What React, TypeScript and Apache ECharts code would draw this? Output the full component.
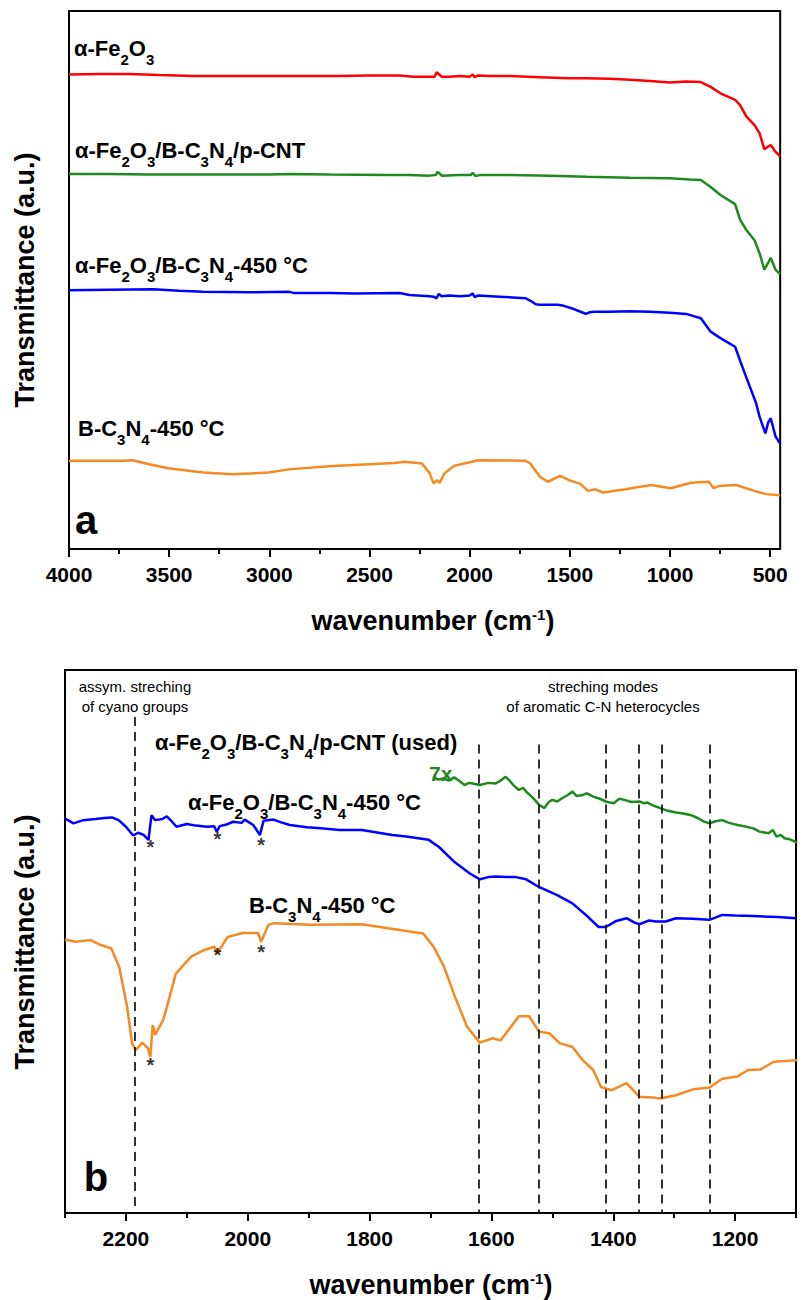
import React, { useEffect, useRef } from "react";
import * as echarts from "echarts";

// ---------- colours ----------
const RED = "#ff0000";
const GREEN = "#1e8a1e";
const BLUE = "#0000ff";
const ORANGE = "#f68a22";

// ---------- panel (a): 4000-450 cm-1, [wavenumber, transmittance (a.u.)] ----------
const fe2o3Full: number[][] = [
  [4000, 88.2], [3850, 88.3], [3700, 88.3], [3550, 88.1], [3380, 87.9], [3200, 87.9],
  [3000, 87.9], [2800, 87.9], [2650, 87.9], [2500, 88.0], [2350, 88.0], [2280, 87.8],
  [2220, 87.8], [2175, 87.8], [2165, 88.6], [2155, 88.3], [2140, 87.8], [2100, 87.8],
  [2050, 87.9], [2000, 87.8], [1985, 88.2], [1975, 87.7], [1960, 88.0], [1900, 87.9],
  [1800, 87.9], [1650, 87.7], [1500, 87.5], [1414, 87.5], [1300, 87.4], [1200, 87.2],
  [1100, 87.0], [1000, 86.7], [920, 86.9], [846, 86.8], [797, 85.9], [748, 84.7],
  [675, 83.5], [650, 82.5], [619, 80.4], [578, 78.8], [553, 77.3], [529, 74.3],
  [510, 74.8], [497, 75.1], [473, 73.8], [450, 73.0],
];

const compositeFull: number[][] = [
  [4000, 69.7], [3800, 69.7], [3600, 69.6], [3400, 69.6], [3000, 69.6], [2900, 69.7],
  [2700, 69.6], [2400, 69.5], [2300, 69.5], [2200, 69.4], [2170, 69.5], [2160, 70.1],
  [2150, 69.8], [2140, 69.4], [2050, 69.5], [1995, 69.5], [1985, 69.9], [1970, 69.3],
  [1950, 69.5], [1800, 69.5], [1600, 69.4], [1414, 69.2], [1200, 69.0], [1000, 68.9],
  [900, 68.7], [846, 68.6], [797, 67.3], [748, 65.8], [675, 64.1], [650, 61.2],
  [619, 59.3], [578, 57.4], [553, 55.0], [529, 51.9], [513, 53.0], [497, 54.1],
  [473, 51.9], [450, 51.1],
];

const composite450Full: number[][] = [
  [4000, 48.1], [3800, 48.2], [3580, 48.3], [3450, 48.0], [3330, 47.8], [3100, 47.7],
  [2900, 47.8], [2880, 47.6], [2700, 47.6], [2575, 47.5], [2350, 47.6], [2300, 47.2],
  [2200, 47.0], [2180, 46.9], [2165, 46.6], [2155, 47.4], [2140, 47.0], [2100, 47.1],
  [2050, 47.0], [2000, 47.1], [1985, 47.5], [1975, 46.8], [1960, 47.1], [1850, 46.9],
  [1720, 46.6], [1690, 46.0], [1670, 45.5], [1650, 45.4], [1560, 45.4], [1530, 45.2],
  [1480, 44.6], [1440, 44.0], [1420, 43.7], [1400, 44.0], [1380, 44.1], [1300, 44.1],
  [1200, 44.2], [1100, 44.1], [1000, 43.9], [920, 43.7], [846, 42.9], [797, 40.4],
  [748, 39.2], [675, 37.6], [650, 35.0], [620, 32.0], [570, 27.1], [553, 24.6],
  [524, 21.5], [510, 23.5], [497, 24.3], [473, 20.9], [450, 19.6],
];

const bc3n4Full: number[][] = [
  [4000, 16.4], [3731, 16.4], [3681, 16.5], [3606, 15.8], [3505, 15.0], [3330, 14.2],
  [3179, 13.9], [3004, 14.2], [2903, 14.8], [2702, 15.4], [2376, 16.0], [2326, 16.2],
  [2238, 15.9], [2200, 14.1], [2180, 12.2], [2163, 12.8], [2150, 12.3], [2125, 14.1],
  [2075, 15.5], [1987, 16.2], [1962, 16.5], [1723, 16.4], [1698, 15.9], [1648, 13.4],
  [1610, 12.5], [1548, 13.6], [1498, 12.7], [1447, 12.1], [1410, 10.8], [1372, 11.1],
  [1335, 10.5], [1222, 11.1], [1096, 11.9], [996, 11.3], [895, 12.3], [807, 12.5],
  [782, 11.3], [757, 11.7], [670, 11.9], [570, 10.7], [520, 10.2], [450, 10.0],
];

// ---------- panel (b): 2300-1100 cm-1 ----------
const compositeUsedZoom: number[][] = [
  [1695, 79.6], [1688, 79.1], [1678, 79.3], [1670, 78.9], [1661, 79.5], [1652, 78.8],
  [1644, 78.1], [1637, 78.5], [1631, 78.4], [1619, 78.1], [1605, 78.5], [1593, 78.4],
  [1585, 78.9], [1577, 79.6], [1570, 78.9], [1564, 78.1], [1555, 77.2], [1548, 77.6],
  [1543, 76.9], [1534, 76.0], [1528, 75.3], [1522, 74.5], [1513, 73.9], [1506, 75.0],
  [1500, 75.4], [1492, 75.1], [1484, 75.7], [1476, 76.2], [1467, 76.9], [1460, 76.1],
  [1450, 76.3], [1443, 76.6], [1433, 76.0], [1422, 75.6], [1412, 75.1], [1405, 74.9],
  [1399, 74.8], [1390, 75.6], [1382, 75.4], [1370, 75.0], [1357, 75.1], [1350, 74.8],
  [1344, 74.9], [1335, 74.4], [1323, 73.9], [1310, 73.4], [1297, 73.1], [1285, 72.9],
  [1272, 72.6], [1260, 72.0], [1250, 71.4], [1242, 71.1], [1232, 71.5], [1221, 71.7],
  [1210, 71.2], [1196, 70.8], [1185, 70.6], [1170, 70.2], [1160, 69.6], [1145, 69.3],
  [1138, 69.9], [1132, 68.7], [1125, 69.0], [1119, 68.4], [1110, 68.2], [1098, 67.6],
];

const composite450Zoom: number[][] = [
  [2300, 72.0], [2286, 71.1], [2270, 71.7], [2250, 71.9], [2235, 72.1], [2223, 72.2],
  [2212, 71.7], [2200, 70.5], [2188, 68.9], [2180, 69.4], [2171, 69.0], [2163, 68.1],
  [2158, 72.6], [2152, 71.7], [2140, 71.9], [2133, 72.4], [2125, 71.5], [2117, 70.5],
  [2100, 71.0], [2085, 70.7], [2067, 70.5], [2055, 70.6], [2051, 69.6], [2046, 70.6],
  [2035, 70.9], [2024, 71.4], [2010, 71.2], [2005, 71.8], [1991, 70.8], [1980, 69.0],
  [1974, 71.6], [1958, 71.8], [1945, 71.3], [1931, 70.8], [1903, 70.4], [1880, 70.2],
  [1849, 69.9], [1813, 69.9], [1790, 69.5], [1763, 69.0], [1740, 68.7], [1703, 68.1],
  [1686, 66.8], [1661, 64.1], [1636, 62.0], [1619, 60.9], [1605, 61.3], [1593, 61.4],
  [1575, 61.3], [1560, 61.3], [1543, 60.9], [1522, 59.5], [1492, 58.0], [1467, 56.5],
  [1442, 54.1], [1424, 52.2], [1412, 52.2], [1395, 53.3], [1378, 53.8], [1365, 53.0],
  [1357, 52.7], [1341, 53.4], [1330, 53.2], [1314, 53.2], [1297, 53.8], [1270, 53.7],
  [1242, 53.5], [1221, 54.4], [1200, 54.3], [1170, 54.2], [1130, 54.0], [1100, 53.8],
];

const bc3n4Zoom: number[][] = [
  [2300, 49.9], [2283, 49.5], [2258, 49.8], [2241, 48.9], [2224, 48.3], [2211, 44.9],
  [2198, 37.6], [2190, 31.0], [2184, 29.7], [2173, 31.1], [2164, 30.1], [2160, 28.5],
  [2156, 34.3], [2152, 32.5], [2139, 35.2], [2131, 38.3], [2118, 43.7], [2093, 46.8],
  [2071, 48.0], [2055, 48.6], [2050, 47.4], [2033, 50.4], [2008, 51.1], [1983, 51.1],
  [1978, 49.5], [1966, 52.6], [1957, 52.9], [1898, 52.6], [1813, 52.7], [1729, 51.3],
  [1712, 51.0], [1695, 48.6], [1678, 45.0], [1661, 39.8], [1640, 34.0], [1619, 31.1],
  [1598, 31.9], [1585, 31.5], [1555, 35.9], [1538, 35.9], [1522, 33.1], [1505, 32.8],
  [1488, 31.0], [1467, 30.3], [1450, 27.9], [1433, 26.1], [1420, 23.0], [1403, 22.4],
  [1378, 23.7], [1357, 21.2], [1336, 21.1], [1323, 20.9], [1297, 21.5], [1268, 22.6],
  [1242, 22.9], [1221, 24.5], [1196, 24.9], [1179, 26.1], [1158, 26.2], [1137, 27.6],
  [1098, 27.9],
];

// band positions (cm-1) marked with dashed guides
const cyanoBands = [2185];
const heterocycleBands = [1620, 1523, 1412, 1358, 1321, 1242];
// asterisks below the sharp features
const starMarks: number[][] = [
  [2160, 66.8], [2050, 68.2], [1978, 67.2],
  [2050, 47.1], [1978, 47.6], [2160, 27.0],
];

// ---------- axis ticks ----------
const fullMajor = [4000, 3500, 3000, 2500, 2000, 1500, 1000, 500];
const fullMinor = [3750, 3250, 2750, 2250, 1750, 1250, 750];
const zoomMajor = [2200, 2000, 1800, 1600, 1400, 1200];
const zoomMinor = [2300, 2100, 1900, 1700, 1500, 1300, 1100];

const FONT = "'Liberation Sans', Arial, sans-serif";

// rich-text styles: bold label text, lowered subscripts
const labelRich = (color: string, size = 22) => {
  const sub = Math.round(size * 0.68);
  return {
    m: { fontSize: size, fontWeight: "bold", fontFamily: FONT, fill: color, color, lineHeight: size + 4, verticalAlign: "top" },
    s: {
      fontSize: sub,
      fontWeight: "bold",
      fontFamily: FONT,
      fill: color,
      color,
      lineHeight: sub,
      verticalAlign: "top",
      padding: [Math.round(size * 0.68), 0, 0, 0],
    },
  };
};

// digits directly after a letter become subscripts (Fe2O3, C3N4)
function chem(s: string): string {
  let out = "";
  let buf = "";
  for (let i = 0; i < s.length; i++) {
    const c = s[i];
    if (/\d/.test(c) && i > 0 && /[A-Za-z]/.test(s[i - 1])) {
      if (buf) out += `{m|${buf}}`;
      buf = "";
      out += `{s|${c}}`;
    } else {
      buf += c;
    }
  }
  if (buf) out += `{m|${buf}}`;
  return out;
}

function labelText(text: string, x: number, y: number, color = "#000", size = 22) {
  return {
    type: "text",
    x,
    y,
    style: {
      text: chem(text),
      rich: labelRich(color, size),
      textAlign: "left",
      textVerticalAlign: "middle",
    },
  };
}

function plainText(text: string, x: number, y: number, size: number, weight = "normal", align = "center", color = "#000") {
  return {
    type: "text",
    x,
    y,
    style: {
      text,
      font: `${weight} ${size}px ${FONT}`,
      fill: color,
      textAlign: align,
      textVerticalAlign: "middle",
    },
  };
}

function xTitle(x: number, y: number) {
  return {
    type: "text",
    x,
    y,
    style: {
      text: "{a|wavenumber (cm}{s|-1}{a|)}",
      rich: {
        a: { fontSize: 27, fontWeight: "bold", fontFamily: FONT, fill: "#000", color: "#000", lineHeight: 32, verticalAlign: "top" },
        s: { fontSize: 15, fontWeight: "bold", fontFamily: FONT, fill: "#000", color: "#000", lineHeight: 15, verticalAlign: "top" },
      },
      textAlign: "center",
      textVerticalAlign: "middle",
    },
  };
}

function yTitle(x: number, y: number) {
  return {
    type: "text",
    x,
    y,
    rotation: Math.PI / 2,
    style: {
      text: "Transmittance (a.u.)",
      font: `bold 27px ${FONT}`,
      fill: "#000",
      textAlign: "center",
      textVerticalAlign: "middle",
    },
  };
}

const lineSeries = (data: number[][], color: string, axis: number) => ({
  type: "line",
  xAxisIndex: axis * 2,
  yAxisIndex: axis,
  data,
  symbol: "none",
  showSymbol: false,
  lineStyle: { color, width: 2.5 },
  itemStyle: { color },
  z: 3,
});

const majorAxis = (grid: number, min: number, max: number, values: number[]) => ({
  type: "value",
  gridIndex: grid,
  min,
  max,
  inverse: true,
  position: "bottom",
  axisLine: { show: true, onZero: false, lineStyle: { color: "#000", width: 2 } },
  axisTick: { show: true, customValues: values, length: 8, lineStyle: { color: "#000", width: 2 } },
  axisLabel: {
    show: true,
    customValues: values,
    formatter: (v: number) => String(v),
    margin: 15,
    fontSize: 21,
    fontWeight: "bold",
    fontFamily: FONT,
    color: "#000",
  },
  splitLine: { show: false },
});

const minorAxis = (grid: number, min: number, max: number, values: number[]) => ({
  type: "value",
  gridIndex: grid,
  min,
  max,
  inverse: true,
  position: "bottom",
  axisLine: { show: false },
  axisTick: { show: true, customValues: values, length: 5, lineStyle: { color: "#000", width: 2 } },
  axisLabel: { show: false },
  splitLine: { show: false },
});

const hiddenY = (grid: number, max: number) => ({
  type: "value",
  gridIndex: grid,
  min: 0,
  max,
  show: false,
  splitLine: { show: false },
});

export default function App() {
  const ref = useRef<HTMLDivElement>(null);

  useEffect(() => {
    document.body.style.margin = "0";
    if (!ref.current) return;
    const chart = echarts.init(ref.current, null, { renderer: "svg" });

    const guideLines = [
      ...cyanoBands.map((b) => [{ coord: [b, 90.5] }, { coord: [b, 0] }]),
      ...heterocycleBands.map((b) => [{ coord: [b, 85.5] }, { coord: [b, 0] }]),
    ];

    chart.setOption({
      animation: false,
      backgroundColor: "#fff",
      grid: [
        { left: 69, top: 11, width: 729, height: 538, show: true, borderColor: "#000", borderWidth: 2, backgroundColor: "transparent" },
        { left: 65, top: 670, width: 731, height: 543, show: true, borderColor: "#000", borderWidth: 2, backgroundColor: "transparent" },
      ],
      xAxis: [
        majorAxis(0, 450, 4000, fullMajor),
        minorAxis(0, 450, 4000, fullMinor),
        majorAxis(1, 1100, 2300, zoomMajor),
        minorAxis(1, 1100, 2300, zoomMinor),
      ],
      yAxis: [hiddenY(0, 100), hiddenY(1, 99.1)],
      series: [
        lineSeries(fe2o3Full, RED, 0),
        lineSeries(compositeFull, GREEN, 0),
        lineSeries(composite450Full, BLUE, 0),
        lineSeries(bc3n4Full, ORANGE, 0),
        lineSeries(compositeUsedZoom, GREEN, 1),
        lineSeries(composite450Zoom, BLUE, 1),
        {
          ...lineSeries(bc3n4Zoom, ORANGE, 1),
          markLine: {
            silent: true,
            symbol: ["none", "none"],
            label: { show: false },
            lineStyle: { type: [9, 6], color: "#000", width: 1.6 },
            data: guideLines,
          },
        },
        {
          type: "scatter",
          xAxisIndex: 2,
          yAxisIndex: 1,
          data: starMarks,
          symbol: "circle",
          symbolSize: 1,
          itemStyle: { color: "rgba(0,0,0,0)" },
          label: {
            show: true,
            position: "inside",
            formatter: "*",
            fontSize: 20,
            fontWeight: "bold",
            fontFamily: FONT,
            color: "#000",
          },
          z: 4,
        },
      ],
      graphic: [
        // panel (a) sample labels
        labelText("α-Fe2O3", 74, 50),
        labelText("α-Fe2O3/B-C3N4/p-CNT", 75, 152),
        labelText("α-Fe2O3/B-C3N4-450 °C", 75, 267),
        labelText("B-C3N4-450 °C", 78, 430),
        plainText("a", 86, 520, 40, "bold"),
        xTitle(433, 623),
        yTitle(25, 280),
        // panel (b) annotations and sample labels
        plainText("assym. streching", 135, 686, 15),
        plainText("of cyano groups", 135, 706, 15),
        plainText("streching modes", 603, 686, 15),
        plainText("of aromatic C-N heterocycles", 603, 706, 15),
        labelText("α-Fe2O3/B-C3N4/p-CNT (used)", 155, 744),
        plainText("7x", 429, 773, 21, "bold", "left", GREEN),
        labelText("α-Fe2O3/B-C3N4-450 °C", 188, 804),
        labelText("B-C3N4-450 °C", 249, 907),
        plainText("b", 96, 1177, 40, "bold"),
        xTitle(431, 1287),
        yTitle(25, 942),
      ],
    });

    return () => chart.dispose();
  }, []);

  return (
    <div
      ref={ref}
      style={{ position: "absolute", left: 0, top: 0, width: 808, height: 1300, background: "#fff" }}
    />
  );
}
